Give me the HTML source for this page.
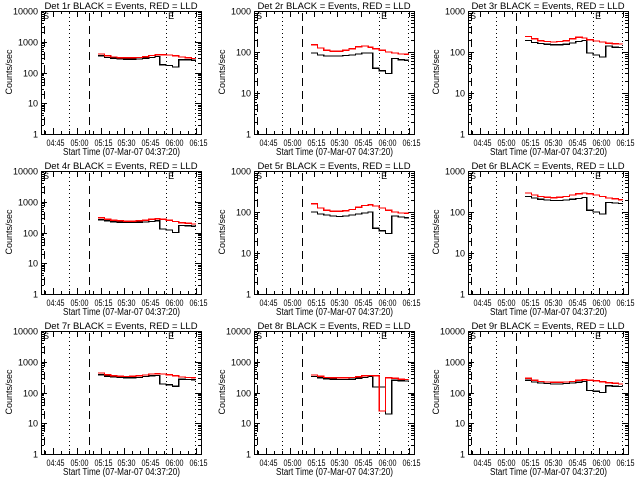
<!DOCTYPE html>
<html><head><meta charset="utf-8">
<style>
html,body{margin:0;padding:0;background:#fff;}
svg{display:block;font-family:"Liberation Sans",sans-serif;}
text{fill:#000;}
</style></head>
<body>
<svg id="chart" width="640" height="480" viewBox="0 0 640 480" xmlns="http://www.w3.org/2000/svg" shape-rendering="crispEdges">
<rect width="640" height="480" fill="#fff"/>
</svg>
<script>
// shared sample times (minutes after 04:37:20)
const times = [36,40,44,48,52,56,60,64,68,72,75,79,83,87,91,95,97.5];
const detectors = ["1r","2r","3r","4r","5r","6r","7r","8r","9r"];
const decades = [4,3,3,4,3,3,4,4,4];
const red1 = [400,350,320,305,300,300,310,330,360,380,380,370,350,320,300,285,280];
const blk1 = [350,310,290,280,270,270,275,290,310,330,180,170,150,260,260,250,240];
const red2 = [150,125,110,105,105,110,120,135,140,130,120,110,100,95,90,88,85];
const blk2 = [95,85,80,80,80,82,85,90,95,95,40,35,30,70,65,63,62];
const red3 = [240,210,190,180,175,180,190,210,230,220,200,185,175,165,160,158,155];
const blk3 = [190,170,160,155,150,150,155,165,180,190,95,85,75,140,130,128,125];
const red4 = [300,270,250,240,235,235,240,250,270,280,270,250,230,210,200,190,185];
const blk4 = [260,240,225,215,210,210,215,220,230,240,130,120,100,170,165,160,158];
const red5 = [160,125,110,105,105,108,115,130,145,150,140,125,110,100,95,93,90];
const blk5 = [100,90,85,80,78,80,85,90,95,100,40,35,30,80,75,72,70];
const red6 = [290,260,240,230,225,230,240,260,280,290,280,260,240,220,210,200,195];
const blk6 = [240,220,205,195,190,190,195,205,215,225,110,100,90,170,165,160,155];
const red7 = [430,380,350,340,335,340,350,370,400,410,400,380,350,320,310,305,300];
const blk7 = [380,340,320,310,300,300,310,330,350,360,190,180,160,270,265,260,255];
const red8 = [370,340,310,300,300,300,310,330,350,360,350,25,300,290,270,265,260];
const blk8 = [330,300,280,270,265,265,270,290,310,330,150,150,20,250,240,235,230];
const red9 = [290,250,230,220,215,215,220,230,250,260,250,240,225,210,200,190,185];
const blk9 = [250,220,205,195,190,190,195,205,215,230,115,110,100,165,160,158,155];
const reds = [red1,red2,red3,red4,red5,red6,red7,red8,red9];
const blacks = [blk1,blk2,blk3,blk4,blk5,blk6,blk7,blk8,blk9];
const xTickLabels = ["04:45","05:00","05:15","05:30","05:45","06:00","06:15"];
const xTickMinutes = [7.67,22.67,37.67,52.67,67.67,82.67,97.67];
const dashedLines = [2,30.3];
const dottedLines = [17.7,79,97.2];

const NS="http://www.w3.org/2000/svg";
const svg=document.getElementById('chart');
function mk(tag,attrs,parent){const e=document.createElementNS(NS,tag);for(const k in attrs)e.setAttribute(k,attrs[k]);parent.appendChild(e);return e;}

const BX0=41,BX1=201,BY0=11,BY1=134,XMAX=101;
for(let p=0;p<9;p++){
  const ox=Math.round((p%3)*213.3), oy=Math.floor(p/3)*160;
  const g=mk('g',{transform:`translate(${ox},${oy})`},svg);
  
  
  const nd=decades[p];
  const xs=m=>BX0+m*(BX1-BX0)/XMAX;
  const ys=v=>BY1-Math.log10(Math.max(v,1))*(BY1-BY0)/nd;
  // title
  const t=mk('text',{x:0,y:0,'font-size':'9.5','text-anchor':'middle',transform:'translate(121,9)'},g);
  t.textContent='Det '+detectors[p]+' BLACK = Events, RED = LLD';
  
  
  // box
  const box=mk('rect',{x:BX0+0.5,y:BY0+0.5,width:BX1-BX0,height:BY1-BY0,fill:'none',stroke:'#000','stroke-width':1},g);
  
  
  // y ticks
  for(let d=0;d<=nd;d++){
    const y=Math.round(ys(Math.pow(10,d)))+0.5;
    mk('line',{x1:BX0,x2:BX0+6,y1:y,y2:y,stroke:'#000'},g);
    mk('line',{x1:BX1-6,x2:BX1,y1:y,y2:y,stroke:'#000'},g);
    const lb=mk('text',{x:BX0-3,y:y+3,'font-size':'9','text-anchor':'end'},g);
    lb.textContent=String(Math.pow(10,d));
    
    
    if(d<nd){for(let k=2;k<10;k++){const yy=Math.round(ys(k*Math.pow(10,d)))+0.5;
      mk('line',{x1:BX0,x2:BX0+3,y1:yy,y2:yy,stroke:'#000'},g);
      mk('line',{x1:BX1-3,x2:BX1,y1:yy,y2:yy,stroke:'#000'},g);}}
  }
  // x ticks
  for(let m=2.67;m<XMAX;m+=5){const x=Math.round(xs(m))+0.5;
    mk('line',{x1:x,x2:x,y1:BY1-3,y2:BY1,stroke:'#000'},g);
    mk('line',{x1:x,x2:x,y1:BY0,y2:BY0+3,stroke:'#000'},g);}
  xTickMinutes.forEach((m,i)=>{const x=Math.round(xs(m))+0.5;
    mk('line',{x1:x,x2:x,y1:BY1-6,y2:BY1,stroke:'#000'},g);
    mk('line',{x1:x,x2:x,y1:BY0,y2:BY0+6,stroke:'#000'},g);
    const lb=mk('text',{x:x-7,y:146,'font-size':'9',textLength:18,lengthAdjust:'spacingAndGlyphs'},g);
    lb.textContent=xTickLabels[i];
    
    });
  const xt=mk('text',{x:63,y:155,'font-size':'10',textLength:117,lengthAdjust:'spacingAndGlyphs'},g);
  xt.textContent='Start Time (07-Mar-07 04:37:20)';
  
  
  const yt=mk('text',{x:0,y:0,'font-size':'9','text-anchor':'middle',transform:'translate(12,72) rotate(-90)'},g);
  yt.textContent='Counts/sec';
  
  
  // vertical markers
  dashedLines.forEach(m=>{const x=Math.round(xs(m))+0.5;
    const l=mk('line',{x1:x,x2:x,y1:BY0+2,y2:BY1,stroke:'#000','stroke-dasharray':'8,5'},g);
    
    });
  dottedLines.forEach(m=>{const x=Math.round(xs(m))+0.5;
    const l=mk('line',{x1:x,x2:x,y1:BY0+2,y2:BY1,stroke:'#000','stroke-dasharray':'1,3'},g);
    
    });
  // S / E markers
  const s=mk('text',{x:BX0+2,y:BY0+8,'font-size':'9'},g); s.textContent='S';
  
  
  const e=mk('text',{x:xs(79)+2,y:BY0+8,'font-size':'9'},g); e.textContent='E';
  
  
  // series
  function stepPath(vals){let d='';for(let i=0;i<times.length;i++){
      const x=xs(times[i]).toFixed(1), y=ys(vals[i]).toFixed(1);
      if(i===0)d+=`M${x},${y}`;else d+=`L${x},${ys(vals[i-1]).toFixed(1)}L${x},${y}`;}
    return d;}
  const bp=mk('path',{d:stepPath(blacks[p]),fill:'none',stroke:'#000','stroke-width':1.2},g);
  
  
  const rp=mk('path',{d:stepPath(reds[p]),fill:'none',stroke:'#f00','stroke-width':1.3},g);
  
  
}
</script>
</body></html>
